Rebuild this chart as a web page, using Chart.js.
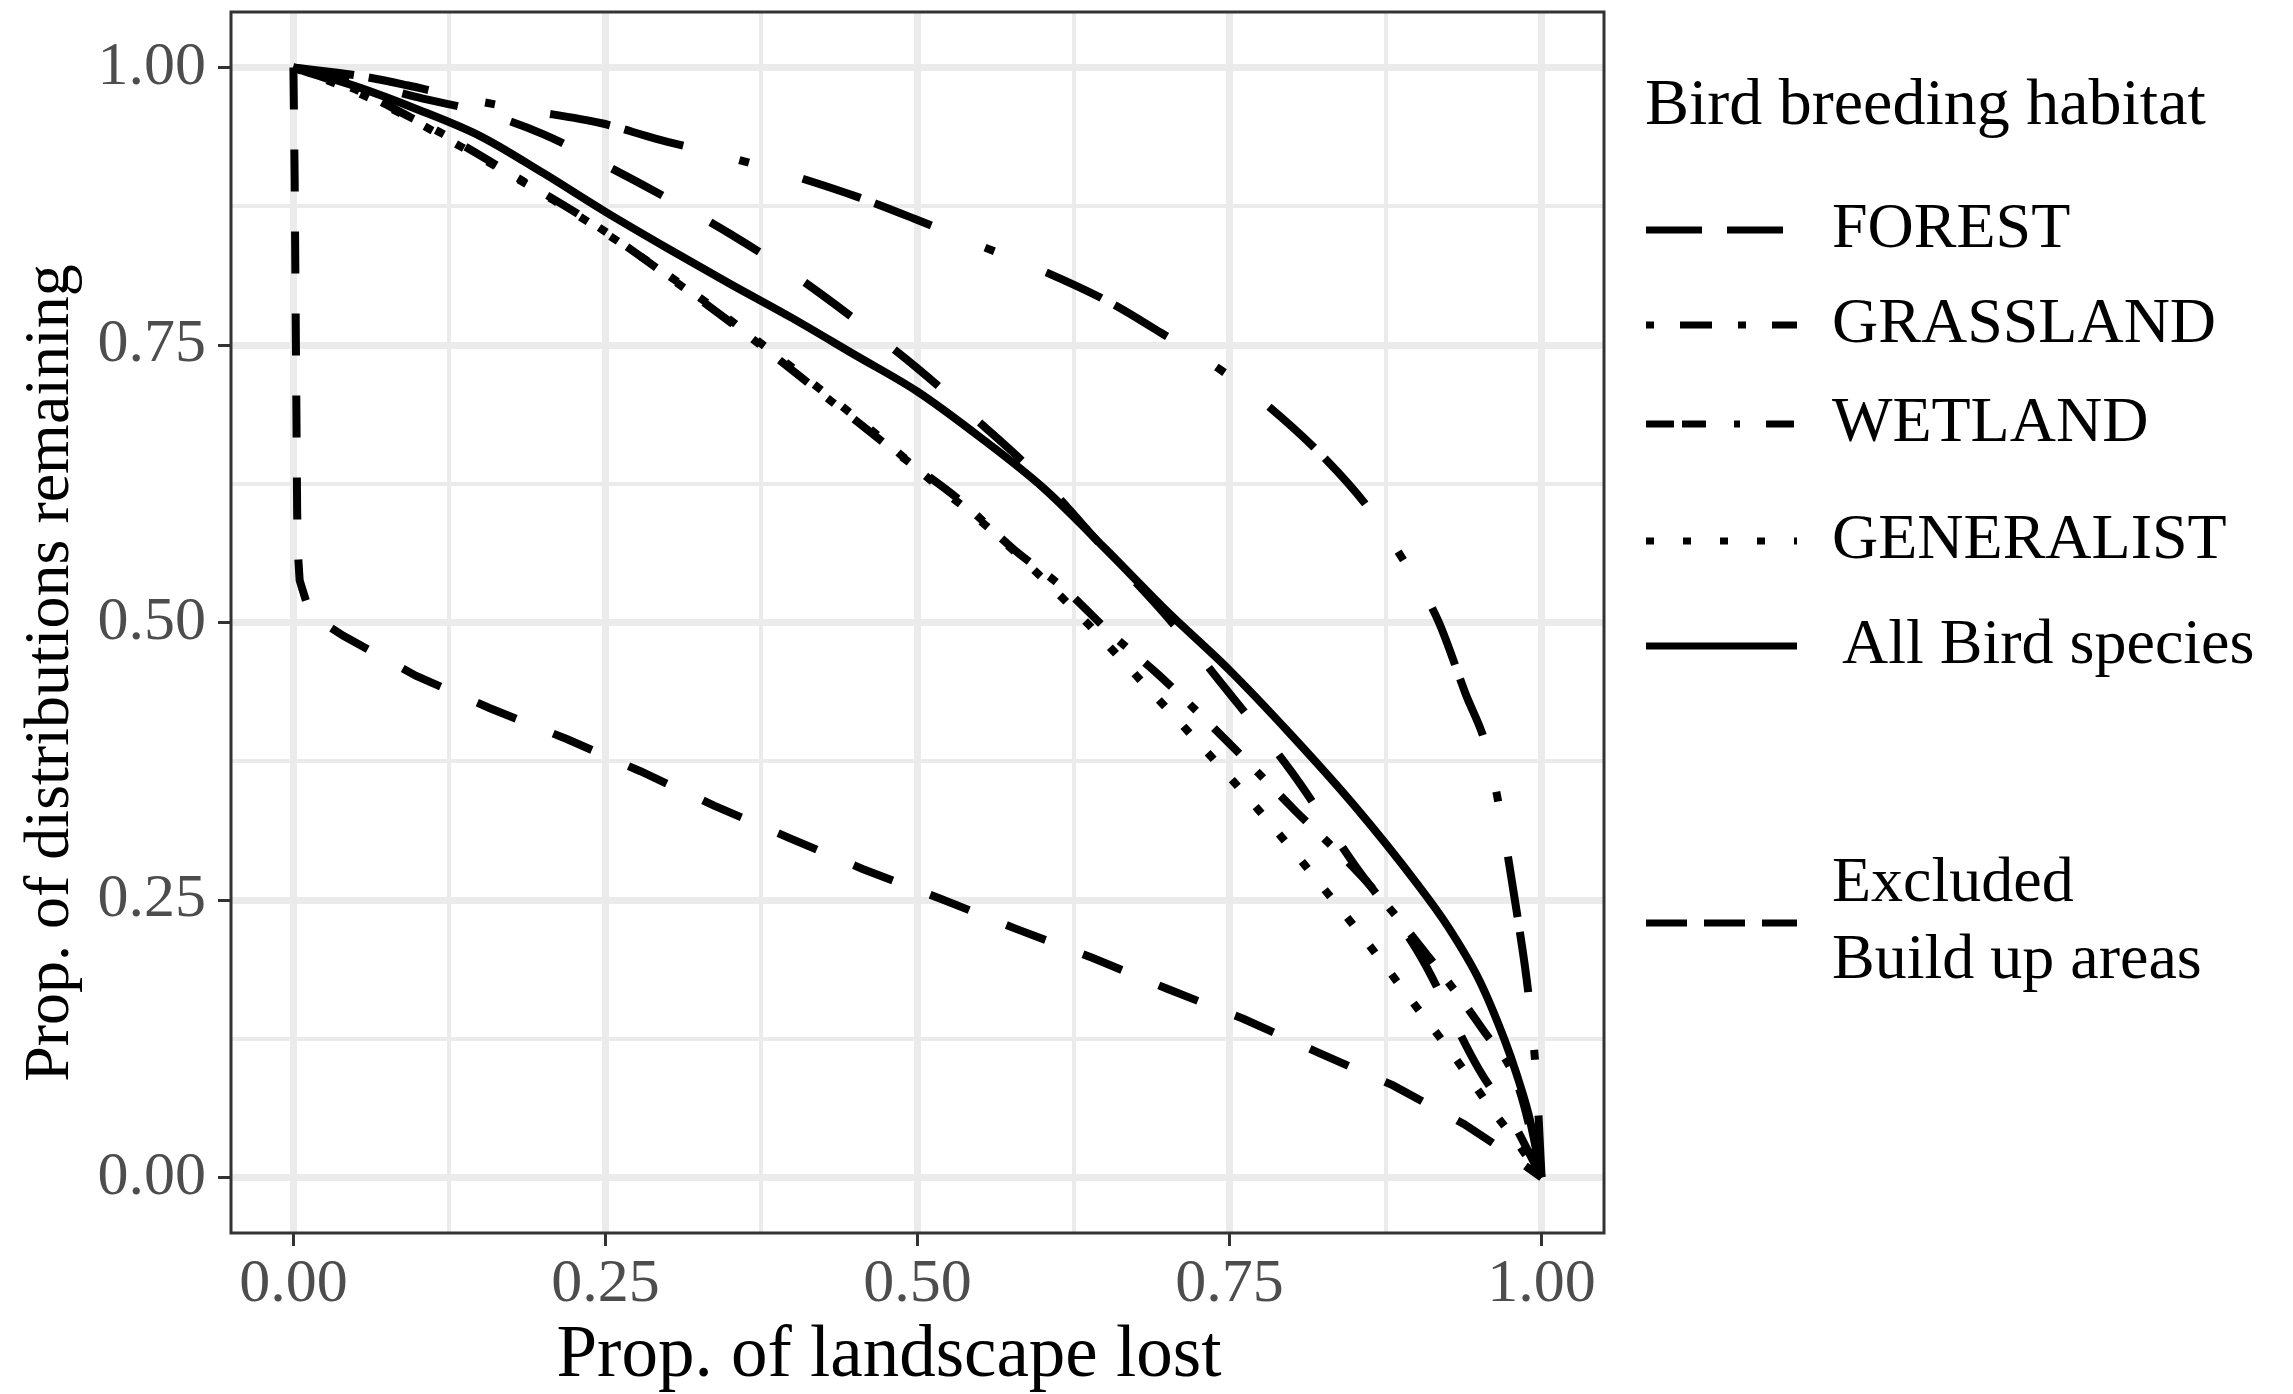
<!DOCTYPE html>
<html>
<head>
<meta charset="utf-8">
<title>Bird breeding habitat</title>
<script src="https://cdn.jsdelivr.net/npm/chart.js@4.4.1/dist/chart.umd.min.js"></script>
<style>
  html, body { margin: 0; padding: 0; background: #ffffff; }
  #wrap { width: 2293px; height: 1394px; }
</style>
</head>
<body>
<div id="wrap"><canvas id="grafica" width="2293" height="1394"></canvas></div>
<script>
/* ======================
   DATOS
====================== */
const MAJOR_TICKS = [0, 0.25, 0.5, 0.75, 1];
const MINOR_TICKS = [0.125, 0.375, 0.625, 0.875];
const TICK_LABELS = ["0.00", "0.25", "0.50", "0.75", "1.00"];

const X_TITLE = "Prop. of landscape lost";
const Y_TITLE = "Prop. of distributions remaining";
const LEGEND_TITLE = "Bird breeding habitat";
const SERIES_LABELS = ["FOREST", "GRASSLAND", "WETLAND", "GENERALIST", "All Bird species", "Excluded\nBuild up areas"];

const FOREST_X = [0, 0.05, 0.1, 0.15, 0.2, 0.25, 0.3, 0.35, 0.4, 0.45, 0.5, 0.55, 0.6, 0.65, 0.7, 0.75, 0.8, 0.85, 0.9, 0.95, 0.975, 1];
const FOREST_Y = [1, 0.988, 0.973, 0.96, 0.94, 0.912, 0.882, 0.85, 0.814, 0.773, 0.729, 0.68, 0.628, 0.566, 0.505, 0.436, 0.365, 0.282, 0.205, 0.097, 0.054, 0];

const GRASSLAND_X = [0, 0.05, 0.094, 0.12, 0.176, 0.242, 0.305, 0.366, 0.428, 0.489, 0.534, 0.577, 0.618, 0.655, 0.694, 0.749, 0.803, 0.857, 0.908, 0.953, 0.981, 1];
const GRASSLAND_Y = [1, 0.98, 0.955, 0.94, 0.903, 0.858, 0.808, 0.757, 0.702, 0.648, 0.61, 0.566, 0.53, 0.49, 0.452, 0.392, 0.33, 0.27, 0.201, 0.133, 0.083, 0];

const WETLAND_X = [0, 0.05, 0.091, 0.138, 0.185, 0.246, 0.29, 0.343, 0.396, 0.453, 0.497, 0.549, 0.598, 0.653, 0.695, 0.741, 0.783, 0.828, 0.86, 0.89, 0.917, 0.939, 0.956, 0.967, 0.98, 0.99, 0.996, 1];
const WETLAND_Y = [1, 0.993, 0.984, 0.972, 0.962, 0.95, 0.936, 0.921, 0.904, 0.883, 0.864, 0.84, 0.818, 0.789, 0.761, 0.729, 0.693, 0.646, 0.605, 0.555, 0.502, 0.436, 0.387, 0.328, 0.24, 0.16, 0.086, 0];

const GENERALIST_X = [0, 0.05, 0.08, 0.14, 0.209, 0.274, 0.335, 0.397, 0.458, 0.515, 0.55, 0.6, 0.638, 0.677, 0.715, 0.753, 0.79, 0.825, 0.86, 0.894, 0.928, 0.961, 0.978, 1];
const GENERALIST_Y = [1, 0.978, 0.962, 0.925, 0.88, 0.833, 0.785, 0.732, 0.678, 0.624, 0.592, 0.54, 0.497, 0.45, 0.404, 0.357, 0.309, 0.261, 0.212, 0.162, 0.112, 0.06, 0.035, 0];

const ALL_X = [0, 0.05, 0.1, 0.15, 0.2, 0.25, 0.3, 0.35, 0.4, 0.45, 0.5, 0.55, 0.6, 0.65, 0.7, 0.75, 0.8, 0.85, 0.9, 0.925, 0.95, 0.97, 0.98, 0.99, 1];
const ALL_Y = [1, 0.983, 0.962, 0.938, 0.905, 0.87, 0.837, 0.805, 0.774, 0.741, 0.708, 0.667, 0.622, 0.567, 0.51, 0.457, 0.398, 0.335, 0.265, 0.226, 0.178, 0.125, 0.093, 0.055, 0];

const EXCLUDED_X = [0, 0.001, 0.002, 0.003, 0.0035, 0.005, 0.0135, 0.04, 0.098, 0.157, 0.219, 0.278, 0.337, 0.397, 0.456, 0.519, 0.579, 0.64, 0.7, 0.761, 0.822, 0.881, 0.938, 0.965, 1];
const EXCLUDED_Y = [1, 0.9, 0.75, 0.6, 0.565, 0.538, 0.507, 0.488, 0.452, 0.423, 0.395, 0.366, 0.335, 0.306, 0.278, 0.251, 0.224, 0.198, 0.17, 0.143, 0.112, 0.083, 0.048, 0.028, 0];

/* ======================
   ESTILOS
====================== */
const FONT = "'Liberation Serif', 'Times New Roman', serif";
const GRID_COLOR = "#EBEBEB";
const DARK = "#333333";

// patrones de trazo en el panel y en la leyenda
const DASH_PLOT = [[57, 55], [36, 25, 9, 25], [61, 15, 61, 58, 10, 56], [9, 27], [], [42, 40]];
const DASH_KEY = [[56, 25], [8, 26, 32, 26], [28, 8, 24, 28, 6, 26], [8, 29], [], [41, 17]];
// filas de la leyenda (y en px)
const LEGEND_ROWS = [230, 325, 424, 541, 646, 923];

function puntos(xs, ys) {
  return xs.map((x, i) => ({ x: x, y: ys[i] }));
}

const series = [
  [FOREST_X, FOREST_Y],
  [GRASSLAND_X, GRASSLAND_Y],
  [WETLAND_X, WETLAND_Y],
  [GENERALIST_X, GENERALIST_Y],
  [ALL_X, ALL_Y],
  [EXCLUDED_X, EXCLUDED_Y]
];

const datasets = series.map((s, i) => ({
  label: SERIES_LABELS[i],
  data: puntos(s[0], s[1]),
  borderColor: "#000000",
  borderWidth: 8,
  borderDash: DASH_PLOT[i],
  borderCapStyle: "butt",
  pointRadius: 0,
  fill: false,
  tension: 0,
  cubicInterpolationMode: i === 5 ? "default" : "monotone"
}));

const ALL_TICKS = MAJOR_TICKS.concat(MINOR_TICKS).sort((a, b) => a - b);

function esMayor(v) {
  return MAJOR_TICKS.indexOf(v) >= 0;
}

function etiqueta(v) {
  const i = MAJOR_TICKS.indexOf(v);
  return i >= 0 ? TICK_LABELS[i] : "";
}

function ejeBase() {
  return {
    type: "linear",
    min: -0.05,
    max: 1.05,
    afterBuildTicks: (axis) => {
      axis.ticks = ALL_TICKS.map((v) => ({ value: v }));
    },
    border: { display: false },
    grid: {
      color: GRID_COLOR,
      lineWidth: (c) => (c.tick && esMayor(c.tick.value) ? 7 : 4),
      tickColor: (c) => (c.tick && esMayor(c.tick.value) ? DARK : "rgba(0,0,0,0)"),
      tickWidth: 3,
      tickLength: 13
    },
    ticks: {
      autoSkip: false,
      maxRotation: 0,
      minRotation: 0,
      color: "#4D4D4D",
      font: { family: FONT, size: 62 },
      callback: (v) => etiqueta(v)
    }
  };
}

const ejeX = ejeBase();
ejeX.ticks.padding = 2;
ejeX.afterFit = (scale) => {
  scale.height = 161;
  scale.paddingLeft = 0;
  scale.paddingRight = 0;
};

const ejeY = ejeBase();
ejeY.ticks.padding = 12;
ejeY.afterFit = (scale) => {
  scale.width = 231;
  scale.paddingTop = 0;
  scale.paddingBottom = 0;
};

// borde del panel (theme_bw) y títulos de los ejes
const bordePanel = {
  id: "bordePanel",
  afterDraw(chart) {
    const a = chart.chartArea;
    const ctx = chart.ctx;
    ctx.save();
    ctx.strokeStyle = DARK;
    ctx.lineWidth = 3;
    ctx.strokeRect(a.left, a.top, a.right - a.left, a.bottom - a.top);

    ctx.fillStyle = "#000000";
    ctx.textAlign = "center";
    ctx.textBaseline = "middle";
    ctx.font = "73px " + FONT;
    ctx.fillText(X_TITLE, 889, 1357);

    ctx.translate(51, 673);
    ctx.rotate(-Math.PI / 2);
    ctx.font = "64px " + FONT;
    ctx.fillText(Y_TITLE, 0, 0);
    ctx.restore();
  }
};

// leyenda dibujada a mano
const leyenda = {
  id: "leyenda",
  afterDraw(chart) {
    const ctx = chart.ctx;
    ctx.save();
    ctx.fillStyle = "#000000";
    ctx.textBaseline = "middle";
    ctx.textAlign = "left";
    ctx.font = "66px " + FONT;
    ctx.fillText(LEGEND_TITLE, 1645, 107);

    chart.data.datasets.forEach((ds, i) => {
      const y = LEGEND_ROWS[i];
      ctx.strokeStyle = "#000000";
      ctx.lineWidth = 7;
      ctx.lineCap = "butt";
      ctx.setLineDash(DASH_KEY[i]);
      ctx.beginPath();
      ctx.moveTo(1646, y);
      ctx.lineTo(1797, y);
      ctx.stroke();
      ctx.setLineDash([]);

      ctx.font = "64px " + FONT;
      const lineas = ds.label.split("\n");
      const x0 = i === 4 ? 1842 : 1832;
      const alto = 77;
      lineas.forEach((t, k) => {
        const yy = y + (k - (lineas.length - 1) / 2) * alto;
        ctx.fillText(t, x0, yy);
      });
    });
    ctx.restore();
  }
};

new Chart(document.getElementById("grafica"), {
  type: "line",
  data: { datasets },
  options: {
    responsive: false,
    animation: false,
    devicePixelRatio: 1,
    layout: { padding: { left: 0, top: 12, right: 689, bottom: 0 } },
    scales: { x: ejeX, y: ejeY },
    plugins: {
      legend: { display: false },
      tooltip: { enabled: false }
    }
  },
  plugins: [bordePanel, leyenda]
});
</script>
</body>
</html>
